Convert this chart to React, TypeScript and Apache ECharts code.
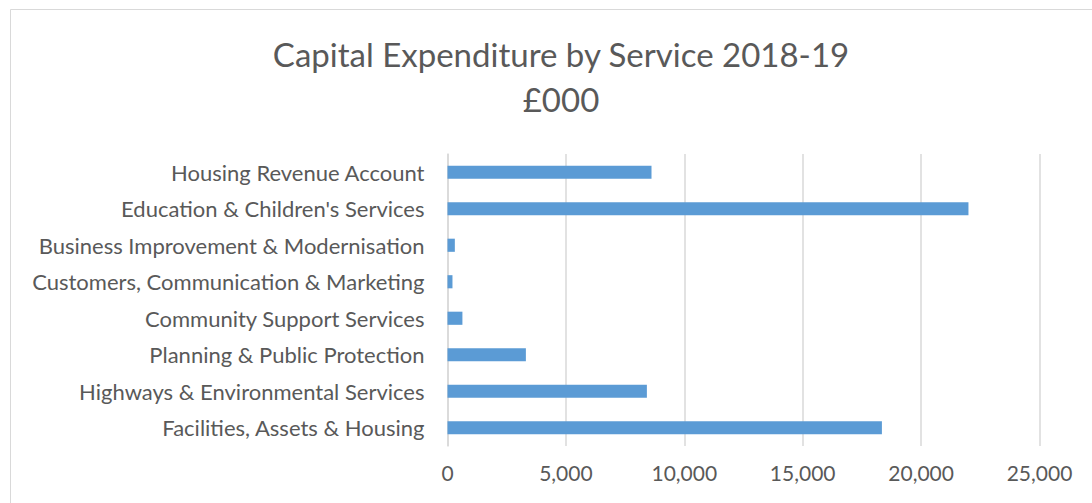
import React, { useEffect, useRef } from "react";
import * as echarts from "echarts";

const categories = [
  "Housing Revenue Account",
  "Education & Children's Services",
  "Business Improvement & Modernisation",
  "Customers, Communication & Marketing",
  "Community Support Services",
  "Planning & Public Protection",
  "Highways & Environmental Services",
  "Facilities, Assets & Housing",
];
const values = [8615, 22000, 310, 210, 630, 3310, 8420, 18345];
const titleLines = ["Capital Expenditure by Service 2018-19", "£000"];
const xMin = 0;
const xMax = 25000;
const xInterval = 5000;

export default function App() {
  const ref = useRef<HTMLDivElement>(null);
  useEffect(() => {
    const chart = echarts.init(ref.current!, null, { renderer: "svg" });
    const font = "Lato, 'Noto Sans', sans-serif";
    chart.setOption({
      animation: false,
      backgroundColor: "#ffffff",
      title: {
        text: titleLines.join("\n"),
        left: 556,
        top: 26,
        textAlign: "center",
        textStyle: {
          fontFamily: font,
          fontSize: 33,
          fontWeight: "normal",
          color: "#595959",
          lineHeight: 45,
        },
      },
      graphic: [
        {
          type: "rect",
          shape: { x: 10.5, y: 9.5, width: 1200, height: 600 },
          style: { fill: "none", stroke: "#D9D9D9", lineWidth: 1 },
          silent: true,
        },
      ],
      grid: { left: 447.5, right: 52.5, top: 154, bottom: 57, containLabel: false },
      xAxis: {
        type: "value",
        min: xMin,
        max: xMax,
        interval: xInterval,
        axisLine: { show: false },
        axisTick: { show: false },
        splitLine: { show: true, lineStyle: { color: "#D9D9D9", width: 1.5 } },
        axisLabel: {
          fontFamily: font,
          fontSize: 21,
          color: "#595959",
          margin: 16,
          formatter: (v: number) => v.toLocaleString("en-GB"),
        },
      },
      yAxis: {
        type: "category",
        data: categories,
        inverse: true,
        axisLine: { show: true, lineStyle: { color: "#D9D9D9", width: 1.5 } },
        axisTick: { show: false },
        axisLabel: {
          fontFamily: font,
          fontSize: 22,
          color: "#595959",
          margin: 23,
        },
      },
      series: [
        {
          type: "bar",
          data: values,
          barWidth: "36%",
          itemStyle: { color: "#5B9BD5" },
        },
      ],
    });
    return () => chart.dispose();
  }, []);
  return (
    <div
      ref={ref}
      style={{ position: "fixed", left: 0, top: 0, width: 1092, height: 503 }}
    />
  );
}
